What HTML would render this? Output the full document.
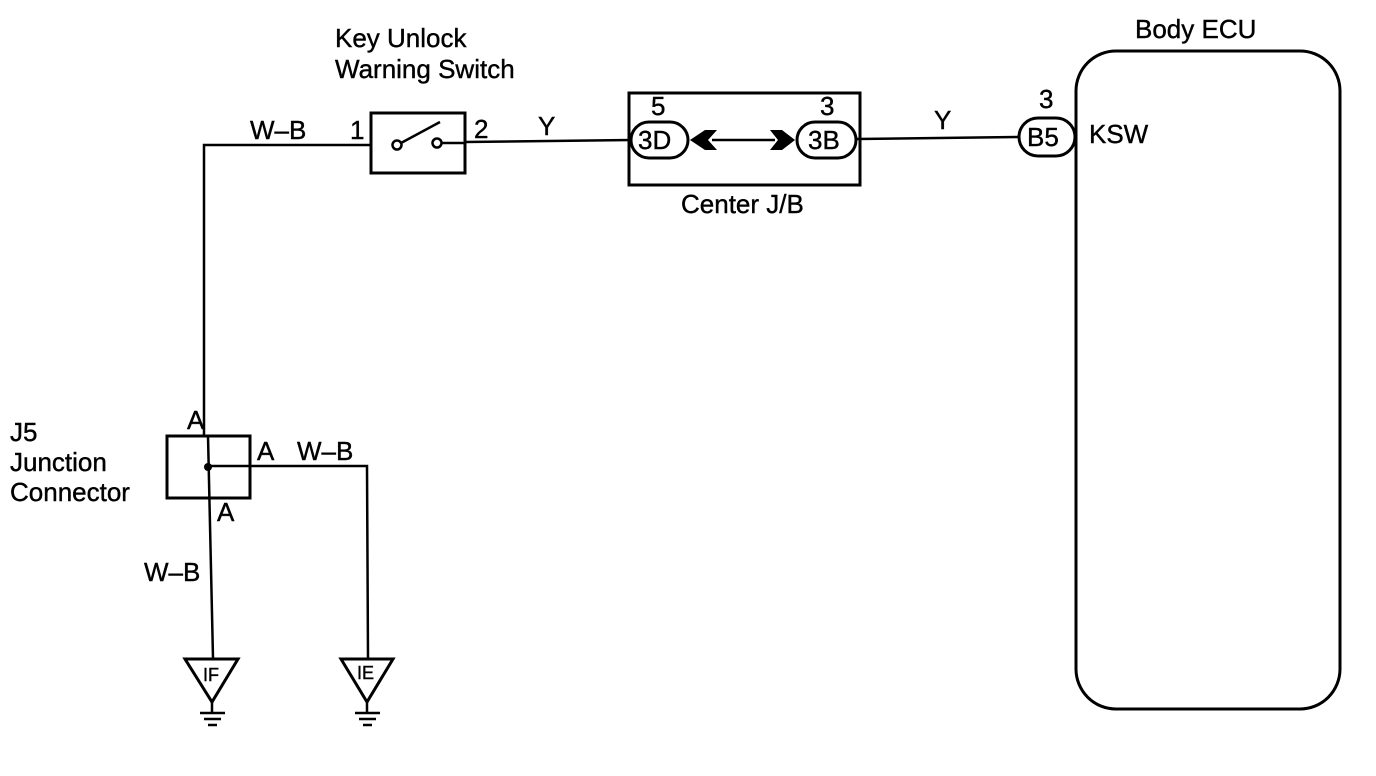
<!DOCTYPE html>
<html><head><style>
body{margin:0;background:#fff}
svg{display:block}
text{font-family:"Liberation Sans",Arial,sans-serif;fill:#000;stroke:#000;stroke-width:0.4}
</style></head><body>
<svg width="1376" height="776" viewBox="0 0 1376 776" xmlns="http://www.w3.org/2000/svg">
<g fill="none" stroke="#000" stroke-width="2.5">
<polyline points="371,145 204,145 204,436"/>
<line x1="208" y1="436" x2="213" y2="658"/>
<polyline points="208,466 367,466 368,658"/>
<rect x="371" y="113" width="94" height="60" stroke-width="3"/>
<circle cx="397" cy="145" r="4.5"/>
<circle cx="437" cy="143" r="4.5"/>
<line x1="401" y1="143" x2="440" y2="122"/>
<line x1="442" y1="143" x2="465" y2="143"/>
<line x1="465" y1="142" x2="631" y2="140"/>
<rect x="629" y="93" width="231" height="92" stroke-width="3"/>
<rect x="631" y="122" width="57" height="36" rx="18" stroke-width="3"/>
<rect x="797" y="122" width="59" height="36" rx="18" stroke-width="3"/>
<line x1="712" y1="140" x2="775" y2="140"/>
<line x1="856" y1="139" x2="1019" y2="137"/>
<rect x="1019" y="118" width="56" height="38" rx="19" stroke-width="3"/>
<rect x="1076" y="51" width="264" height="658" rx="40" stroke-width="3"/>
<rect x="167" y="436" width="83" height="62" stroke-width="3"/>
<polygon points="185,659 238,659 212,702" stroke-width="3"/>
<line x1="212" y1="702" x2="212" y2="712"/>
<line x1="200" y1="713" x2="225" y2="713"/>
<line x1="204" y1="719" x2="221" y2="719"/>
<line x1="208" y1="725" x2="217" y2="725"/>
<polygon points="341,659 393,659 367,702" stroke-width="3"/>
<line x1="367" y1="702" x2="367" y2="712"/>
<line x1="355" y1="713" x2="380" y2="713"/>
<line x1="359" y1="719" x2="376" y2="719"/>
<line x1="363" y1="725" x2="372" y2="725"/>
</g>
<circle cx="208" cy="467" r="4" fill="#000"/>
<polygon points="690,140 705,130 717,130 708,140 717,150 705,150" fill="#000"/>
<polygon points="795,140 782,130 770,130 778,140 770,150 782,150" fill="#000"/>
<g font-size="26">
<text x="335" y="47">Key Unlock</text>
<text x="335" y="78">Warning Switch</text>
<text x="250" y="139">W–B</text>
<text x="350" y="139">1</text>
<text x="474" y="138">2</text>
<text x="538" y="135">Y</text>
<text x="651" y="115">5</text>
<text x="820" y="115">3</text>
<text x="638" y="149">3D</text>
<text x="808" y="149">3B</text>
<text x="681" y="213">Center J/B</text>
<text x="934" y="129">Y</text>
<text x="1039" y="108">3</text>
<text x="1027" y="146">B5</text>
<text x="1089" y="143">KSW</text>
<text x="1135" y="38">Body ECU</text>
<text x="10" y="441">J5</text>
<text x="10" y="471">Junction</text>
<text x="10" y="501">Connector</text>
<text x="187" y="429">A</text>
<text x="257" y="460">A</text>
<text x="297" y="460">W–B</text>
<text x="217" y="521">A</text>
<text x="144" y="581">W–B</text>
</g>
<g font-size="18"><text x="203" y="681">IF</text><text x="357" y="679">IE</text></g>
</svg>
</body></html>
